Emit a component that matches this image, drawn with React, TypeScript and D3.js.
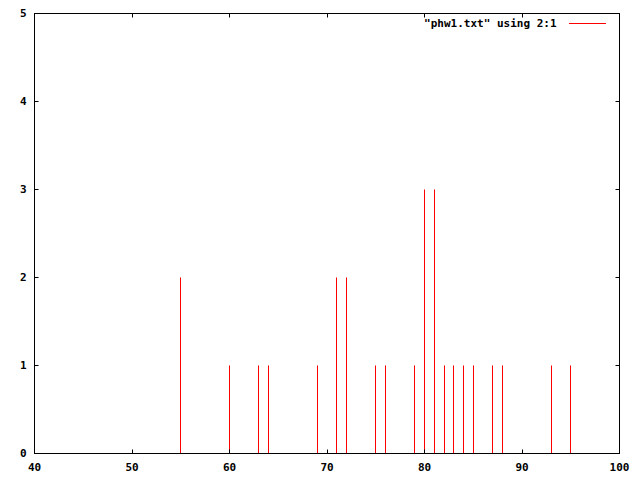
import React from "react";
import * as d3 from "d3";

const xValues = [55, 60, 63, 64, 69, 71, 72, 75, 76, 79, 80, 81, 82, 83, 84, 85, 87, 88, 93, 95];
const counts = [2, 1, 1, 1, 1, 2, 2, 1, 1, 1, 3, 3, 1, 1, 1, 1, 1, 1, 1, 1];
const xTicks = [40, 50, 60, 70, 80, 90, 100];
const yTicks = [0, 1, 2, 3, 4, 5];
const legendLabel = '"phw1.txt" using 2:1';

const W = 640, H = 480;
const L = 34.5, R = 619.5, T = 13.5, B = 453.5;
const font = "'DejaVu Sans Mono', 'Liberation Mono', monospace";

export default function App() {
  const x = d3.scaleLinear().domain([40, 100]).range([L, R]);
  const y = d3.scaleLinear().domain([0, 5]).range([B, T]);
  const px = (v: number) => Math.floor(x(v)) + 0.5;
  const tl = 4;
  return (
    <svg width={W} height={H} style={{ position: "absolute", left: 0, top: 0, background: "#fff" }}>
      <rect x={0} y={0} width={W} height={H} fill="#fff" />
      {xValues.map((v, i) => (
        <line key={"i" + i} x1={px(v)} x2={px(v)} y1={B} y2={y(counts[i])} stroke="#ff0000" strokeWidth={1} />
      ))}
      {xTicks.map((t) => (
        <g key={"x" + t}>
          <line x1={px(t)} x2={px(t)} y1={B} y2={B - tl} stroke="#000" />
          <line x1={px(t)} x2={px(t)} y1={T} y2={T + tl} stroke="#000" />
          <text x={x(t)} y={471} textAnchor="middle" fontFamily={font} fontWeight="bold" fontSize={11}>{t}</text>
        </g>
      ))}
      {yTicks.map((t) => (
        <g key={"y" + t}>
          <line x1={L} x2={L + tl} y1={y(t)} y2={y(t)} stroke="#000" />
          <line x1={R} x2={R - tl} y1={y(t)} y2={y(t)} stroke="#000" />
          <text x={26.5} y={y(t)} dy="0.35em" textAnchor="end" fontFamily={font} fontWeight="bold" fontSize={11}>{t}</text>
        </g>
      ))}
      <rect x={L} y={T} width={R - L} height={B - T} fill="none" stroke="#000" strokeWidth={1} />
      <text x={556.5} y={23} dy="0.35em" textAnchor="end" fontFamily={font} fontWeight="bold" fontSize={11}>{legendLabel}</text>
      <line x1={569} x2={606} y1={23.5} y2={23.5} stroke="#ff0000" strokeWidth={1} />
    </svg>
  );
}
